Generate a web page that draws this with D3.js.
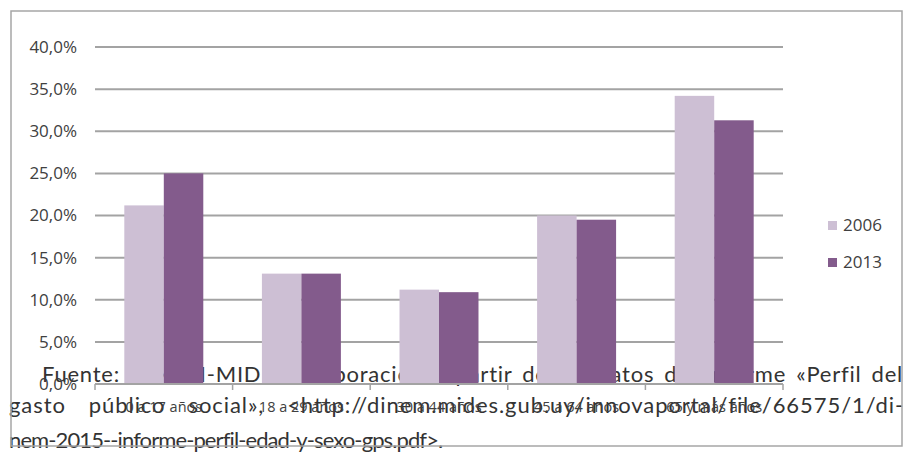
<!DOCTYPE html>
<html>
<head>
<meta charset="utf-8">
<script src="https://cdn.jsdelivr.net/npm/d3@7"></script>
<style>
  body { margin: 0; background: #fff; }
  svg { display: block; }
</style>
</head>
<body>
<div id="chart"></div>
<script>
// data
const categories = ["0 a 17 años", "18 a 29 años", "30 a 44 años", "45 a 64 años", "65 y más años"];
const seriesNames = ["2006", "2013"];
const values2006 = [0.212, 0.131, 0.112, 0.200, 0.342];
const values2013 = [0.250, 0.131, 0.109, 0.195, 0.313];
const yTicks = [0, 0.05, 0.10, 0.15, 0.20, 0.25, 0.30, 0.35, 0.40];
const sourceLines = [
  "Fuente: DINEM-MIDES, elaboración a partir de los datos del informe «Perfil del",
  "gasto público social», <http://dinem.mides.gub.uy/innovaportal/file/66575/1/di-",
  "nem-2015--informe-perfil-edad-y-sexo-gps.pdf>."
];

const width = 910, height = 457;
const plot = { left: 95, right: 783, top: 47, bottom: 384 };
const colors = { "2006": "#cdbfd4", "2013": "#835b8c" };
const gridColor = "#a3a3a3";

const svg = d3.select("#chart").append("svg")
  .attr("width", width)
  .attr("height", height);

// source note sits behind the chart
const note = svg.append("g")
  .style("font-family", "Lato, 'Open Sans', sans-serif")
  .style("font-size", "22px")
  .attr("fill", "#333");

const lineSpecs = [
  { x: 42, y: 382, justify: 903, ls: 0 },
  { x: 9, y: 413, justify: 903, ls: 0 },
  { x: 9, y: 448, justify: null, ls: -0.9 }
];
sourceLines.forEach((txt, i) => {
  const spec = lineSpecs[i];
  const t = note.append("text")
    .attr("x", spec.x)
    .attr("y", spec.y)
    .attr("letter-spacing", spec.ls)
    .text(txt);
  if (spec.justify) {
    // justify like a typesetter: part letter spacing, part word spacing
    const natural = t.node().getComputedTextLength();
    const spaces = (txt.match(/ /g) || []).length;
    const extra = spec.justify - spec.x - natural;
    if (extra > 0) {
      const ls = Math.min(1.2, (extra * 0.6) / txt.length);
      const rest = extra - ls * txt.length;
      t.attr("letter-spacing", ls).attr("word-spacing", rest / spaces);
    }
  }
});

// frame
svg.append("rect")
  .attr("x", 11).attr("y", 11)
  .attr("width", 891).attr("height", 435)
  .attr("fill", "none")
  .attr("stroke", "#a6a6a6")
  .attr("stroke-width", 1.5);

const x0 = d3.scaleBand()
  .domain(categories)
  .range([plot.left, plot.right])
  .paddingInner(0.426)
  .paddingOuter(0.213);

const x1 = d3.scaleBand()
  .domain(seriesNames)
  .range([0, x0.bandwidth()]);

const y = d3.scaleLinear()
  .domain([0, 0.40])
  .range([plot.bottom, plot.top]);

const fmt = d => d3.format(".1f")(d * 100).replace(".", ",") + "%";

// gridlines
svg.append("g")
  .selectAll("line")
  .data(yTicks.slice(1))
  .join("line")
  .attr("x1", plot.left).attr("x2", plot.right)
  .attr("y1", d => y(d)).attr("y2", d => y(d))
  .attr("stroke", gridColor)
  .attr("stroke-width", 2);

// y labels
svg.append("g")
  .style("font-family", "'Open Sans', sans-serif")
  .style("font-size", "17px")
  .attr("fill", "#404040")
  .attr("text-anchor", "end")
  .selectAll("text")
  .data(yTicks)
  .join("text")
  .attr("x", 77)
  .attr("y", d => y(d))
  .attr("dy", "0.35em")
  .text(fmt);

// bars
const rows = categories.map((c, i) => ({ cat: c, vals: { "2006": values2006[i], "2013": values2013[i] } }));
svg.append("g")
  .selectAll("g")
  .data(rows)
  .join("g")
  .attr("transform", d => `translate(${x0(d.cat)},0)`)
  .selectAll("rect")
  .data(d => seriesNames.map(s => ({ s, v: d.vals[s] })))
  .join("rect")
  .attr("x", d => x1(d.s))
  .attr("width", x1.bandwidth())
  .attr("y", d => y(d.v))
  .attr("height", d => y(0) - y(d.v))
  .attr("fill", d => colors[d.s]);

// x axis with ticks at category boundaries
const xAxis = svg.append("g");
xAxis.append("line")
  .attr("x1", plot.left).attr("x2", plot.right)
  .attr("y1", plot.bottom).attr("y2", plot.bottom)
  .attr("stroke", gridColor)
  .attr("stroke-width", 2);
const step = x0.step();
xAxis.selectAll("line.tick")
  .data(d3.range(categories.length + 1))
  .join("line")
  .attr("class", "tick")
  .attr("x1", i => plot.left + i * step)
  .attr("x2", i => plot.left + i * step)
  .attr("y1", plot.bottom).attr("y2", plot.bottom + 6)
  .attr("stroke", gridColor)
  .attr("stroke-width", 1.5);
xAxis.selectAll("text")
  .data(categories)
  .join("text")
  .attr("x", d => x0(d) + x0.bandwidth() / 2)
  .attr("y", 412)
  .attr("text-anchor", "middle")
  .style("font-family", "'Open Sans', sans-serif")
  .style("font-size", "14.5px")
  .attr("fill", "#404040")
  .text(d => d);

// legend
const legend = svg.append("g")
  .style("font-family", "'Open Sans', sans-serif")
  .style("font-size", "17px")
  .attr("fill", "#404040");
const legendItems = legend.selectAll("g")
  .data(seriesNames)
  .join("g")
  .attr("transform", (d, i) => `translate(828,${221 + i * 37})`);
legendItems.append("rect")
  .attr("width", 9).attr("height", 9)
  .attr("fill", d => colors[d]);
legendItems.append("text")
  .attr("x", 15)
  .attr("y", 4.5)
  .attr("dy", "0.35em")
  .text(d => d);
</script>
</body>
</html>
